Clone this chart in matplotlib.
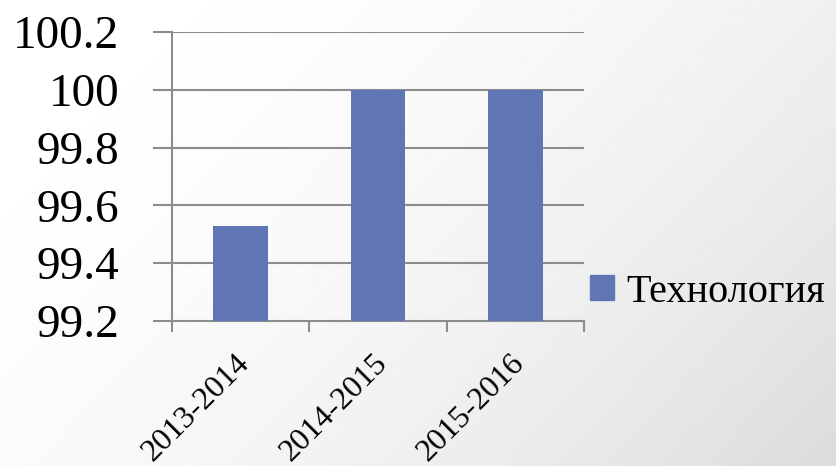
import numpy as np
import matplotlib
matplotlib.use("Agg")
import matplotlib.pyplot as plt
import matplotlib.transforms as mtransforms
from matplotlib.patches import Patch

# chart data
periods = ["2013-2014", "2014-2015", "2015-2016"]
values = [99.53, 100.0, 100.0]
series_name = "Технология"
y_ticks = [99.2, 99.4, 99.6, 99.8, 100.0, 100.2]
y_labels = ["99.2", "99.4", "99.6", "99.8", "100", "100.2"]

bar_color = "#6076b4"
grid_color = "#8c8c8c"
plt.rcParams["font.family"] = ["Liberation Serif", "DejaVu Serif"]

fig = plt.figure(figsize=(8.36, 4.66), dpi=100)

# soft grey gradient background, lighter top-left
bg = fig.add_axes([0, 0, 1, 1], zorder=-10)
yy, xx = np.mgrid[0:1:200j, 0:1:300j]
shade = np.clip(0.65 * xx + 0.35 * yy, 0, 1) ** 2.0
bg.imshow(1.0 - 0.14 * shade, cmap="gray", vmin=0, vmax=1, aspect="auto",
          extent=[0, 1, 1, 0])
bg.axis("off")

ax = fig.add_axes([172 / 836, 1 - 321 / 466, (584 - 172) / 836, (321 - 32) / 466])
ax.patch.set_alpha(0)
x = np.arange(len(periods))
ax.bar(x, values, width=0.4, color=bar_color, zorder=3)

ax.set_ylim(99.2, 100.2)
ax.set_xlim(-0.5, len(periods) - 0.5)
ax.set_yticks(y_ticks)
ax.set_yticklabels(y_labels, fontsize=34)
ax.tick_params(axis="y", length=14, width=1.5, color=grid_color, pad=24)
for yv in y_ticks[1:]:
    ax.axhline(yv, color=grid_color, lw=1.5, zorder=1)

ax.set_xticks(np.arange(len(periods) + 1) - 0.5)
ax.set_xticklabels([])
ax.tick_params(axis="x", length=8, width=1.5, color=grid_color)
ax.set_xticks(x, minor=True)
ax.set_xticklabels(periods, minor=True, fontsize=23, rotation=45,
                   ha="right", va="center", rotation_mode="anchor")
ax.tick_params(axis="x", which="minor", length=0, pad=26)
shift = mtransforms.ScaledTranslation(5 / 100, -2 / 100, fig.dpi_scale_trans)
for lbl in ax.get_xticklabels(minor=True):
    lbl.set_transform(lbl.get_transform() + shift)

for side in ["top", "right"]:
    ax.spines[side].set_visible(False)
for side in ["left", "bottom"]:
    ax.spines[side].set_color(grid_color)
    ax.spines[side].set_linewidth(1.5)

fig.legend(handles=[Patch(color=bar_color, label=series_name)],
           loc="center left", bbox_to_anchor=(590 / 836, 1 - 292 / 466),
           frameon=False, fontsize=29, handlelength=0.6, handleheight=0.6,
           handletextpad=0.3, borderpad=0, borderaxespad=0)

fig.savefig("out.png", dpi=100)
